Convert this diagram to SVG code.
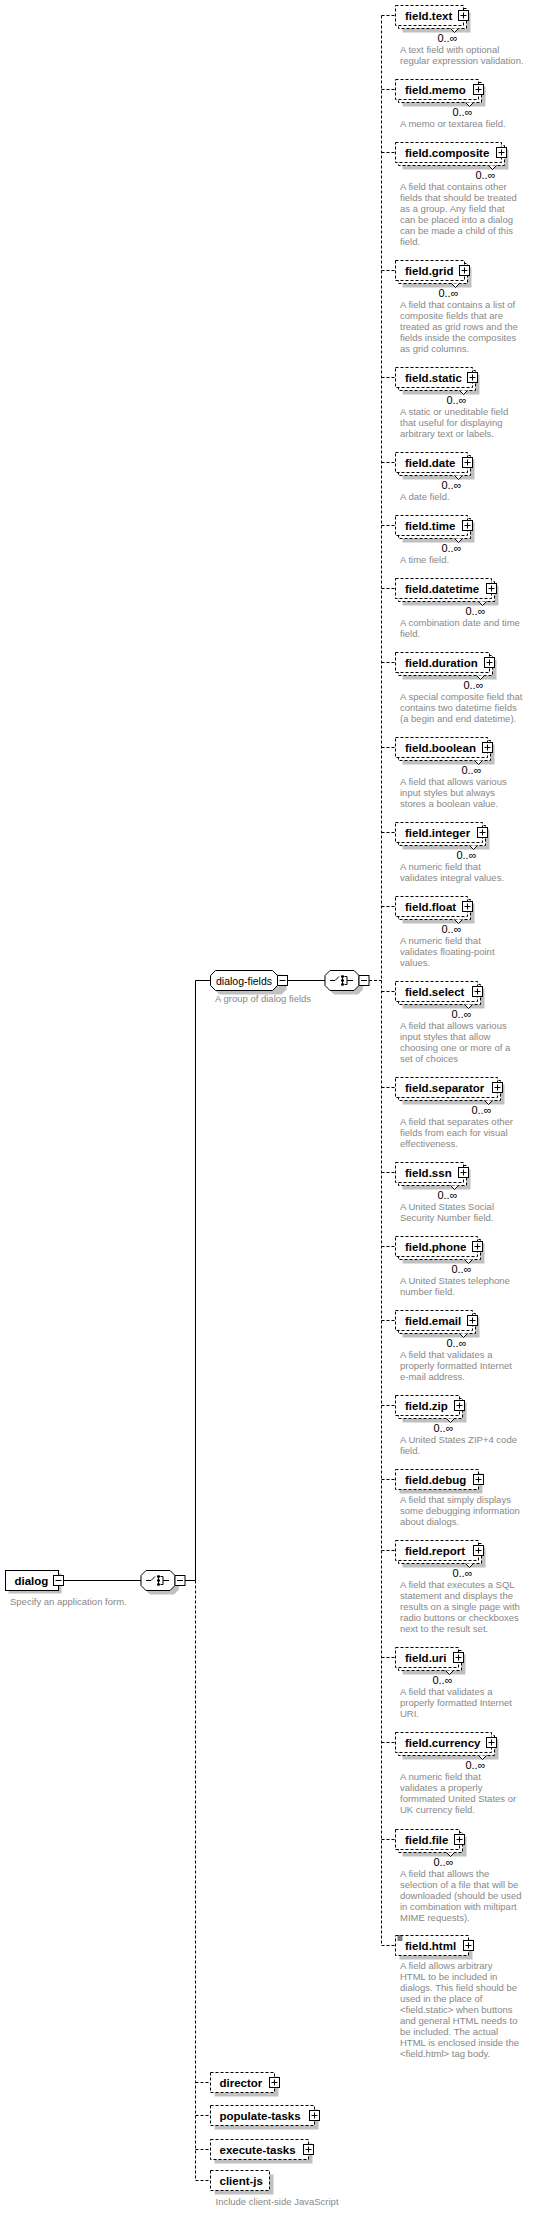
<svg xmlns="http://www.w3.org/2000/svg" xmlns:xlink="http://www.w3.org/1999/xlink" width="555" height="2213" viewBox="0 0 555 2213">
<style>
.n{font-family:"Liberation Sans",Arial,sans-serif;font-weight:bold;font-size:11.5px;fill:#000}
.g{font-family:"Liberation Sans",Arial,sans-serif;font-size:10.5px;fill:#000}
.o{font-family:"Liberation Sans",Arial,sans-serif;font-size:11px;fill:#000;text-anchor:end}
.d{font-family:"Liberation Sans",Arial,sans-serif;font-size:9.5px;fill:#888}
.box{fill:#fff;stroke:#000;stroke-width:1}
.dash{stroke-dasharray:3 2}
.sh{fill:#c0c0c0;stroke:none}
.ln{fill:none;stroke:#000;stroke-width:1}
.chev{fill:#fff;stroke:#000;stroke-width:1}
</style>
<defs>
<g id="plus"><rect class="box" x="-5" y="-5" width="10" height="10"/><path class="ln" d="M-3 0H3M0 -3V3"/></g>
<g id="minus"><rect class="box" x="-5" y="-5" width="10" height="10"/><path class="ln" d="M-3 0H3"/></g>
<g id="choice">
<path class="sh" d="M9 -6H33L38 -1V9L33 14H9L4 9V-1Z"/>
<path class="box" d="M5 -10H29L34 -5V5L29 10H5L0 5V-5Z"/>
<path class="ln" d="M5 0H10L14 -4M17.5 -5V5M19.5 -4H22V4H19.5M22 0H28"/>
<rect x="16" y="-5" width="3" height="2"/><rect x="16" y="-1" width="3" height="2"/><rect x="16" y="3" width="3" height="2"/>
<use xlink:href="#minus" href="#minus" x="39" y="0"/>
</g>
</defs>

<g id="connectors">
<path class="ln" d="M63 1580.5H141M185 1580.5H195.5M195.5 980.5V1580.5M195.5 980.5H210.5M282 980.5H325"/>
<path class="ln dash" d="M195.5 1580.5V2180.5M369 980.5H381.5M381.5 15.5V1945.5"/>
<path class="ln dash" d="M381.5 15.5H395.5M381.5 89.5H395.5M381.5 152.5H395.5M381.5 270.5H395.5M381.5 377.5H395.5M381.5 462.5H395.5M381.5 525.5H395.5M381.5 588.5H395.5M381.5 662.5H395.5M381.5 747.5H395.5M381.5 832.5H395.5M381.5 906.5H395.5M381.5 991.5H395.5M381.5 1087.5H395.5M381.5 1172.5H395.5M381.5 1246.5H395.5M381.5 1320.5H395.5M381.5 1405.5H395.5M381.5 1479.5H395.5M381.5 1550.5H395.5M381.5 1657.5H395.5M381.5 1742.5H395.5M381.5 1839.5H395.5M381.5 1945.5H395.5"/>
<path class="ln dash" d="M195.5 2082.5H210.5M195.5 2115.5H210.5M195.5 2149.5H210.5M195.5 2180.5H210.5"/>
</g>

<g id="dialog" transform="translate(5.5,1580.5)">
<rect class="sh" x="3" y="-7" width="53" height="20"/>
<rect class="box" x="0" y="-10" width="53" height="20"/>
<text class="n" x="9" y="4">dialog</text>
<use xlink:href="#minus" href="#minus" x="53" y="0"/>
<text class="d" x="4.5" y="24.5">Specify an application form.</text>
</g>

<g id="seq-dialog" transform="translate(141,1580.5)"><use xlink:href="#choice" href="#choice"/></g>

<g id="dialog-fields" transform="translate(210.5,980.5)">
<path class="sh" d="M9 -6H71L76 -1V9L71 14H9L4 9V-1Z"/>
<path class="box" d="M5 -10H62L67 -5V5L62 10H5L0 5V-5Z"/>
<text class="g" x="5.5" y="4">dialog-fields</text>
<use xlink:href="#minus" href="#minus" x="72" y="0"/>
<text class="d" x="4.5" y="21.5">A group of dialog fields</text>
</g>

<g id="choice-fields" transform="translate(325,980.5)"><use xlink:href="#choice" href="#choice"/></g>

<g id="field-text" transform="translate(395.5,15.5)">
<rect class="sh" x="7" y="-3" width="68" height="20"/><rect class="box dash" x="3" y="-7" width="68" height="20"/><rect class="box dash" x="0" y="-10" width="68" height="20"/>
<path class="chev" d="M55 13L59 17L63 13"/><use xlink:href="#plus" href="#plus" x="68" y="0"/>
<text class="n" x="9.5" y="4">field.text</text><text class="o" x="62" y="26">0..∞</text>
<text class="d" x="4.5" y="37.5">A text field with optional<tspan x="4.5" dy="11">regular expression validation.</tspan></text>
</g>

<g id="field-memo" transform="translate(395.5,89.5)">
<rect class="sh" x="7" y="-3" width="83" height="20"/><rect class="box dash" x="3" y="-7" width="83" height="20"/><rect class="box dash" x="0" y="-10" width="83" height="20"/>
<path class="chev" d="M70 13L74 17L78 13"/><use xlink:href="#plus" href="#plus" x="83" y="0"/>
<text class="n" x="9.5" y="4">field.memo</text><text class="o" x="77" y="26">0..∞</text>
<text class="d" x="4.5" y="37.5">A memo or textarea field.</text>
</g>

<g id="field-composite" transform="translate(395.5,152.5)">
<rect class="sh" x="7" y="-3" width="106" height="20"/><rect class="box dash" x="3" y="-7" width="106" height="20"/><rect class="box dash" x="0" y="-10" width="106" height="20"/>
<path class="chev" d="M93 13L97 17L101 13"/><use xlink:href="#plus" href="#plus" x="106" y="0"/>
<text class="n" x="9.5" y="4">field.composite</text><text class="o" x="100" y="26">0..∞</text>
<text class="d" x="4.5" y="37.5">A field that contains other<tspan x="4.5" dy="11">fields that should be treated</tspan><tspan x="4.5" dy="11">as a group. Any field that</tspan><tspan x="4.5" dy="11">can be placed into a dialog</tspan><tspan x="4.5" dy="11">can be made a child of this</tspan><tspan x="4.5" dy="11">field.</tspan></text>
</g>

<g id="field-grid" transform="translate(395.5,270.5)">
<rect class="sh" x="7" y="-3" width="69" height="20"/><rect class="box dash" x="3" y="-7" width="69" height="20"/><rect class="box dash" x="0" y="-10" width="69" height="20"/>
<path class="chev" d="M56 13L60 17L64 13"/><use xlink:href="#plus" href="#plus" x="69" y="0"/>
<text class="n" x="9.5" y="4">field.grid</text><text class="o" x="63" y="26">0..∞</text>
<text class="d" x="4.5" y="37.5">A field that contains a list of<tspan x="4.5" dy="11">composite fields that are</tspan><tspan x="4.5" dy="11">treated as grid rows and the</tspan><tspan x="4.5" dy="11">fields inside the composites</tspan><tspan x="4.5" dy="11">as grid columns.</tspan></text>
</g>

<g id="field-static" transform="translate(395.5,377.5)">
<rect class="sh" x="7" y="-3" width="77" height="20"/><rect class="box dash" x="3" y="-7" width="77" height="20"/><rect class="box dash" x="0" y="-10" width="77" height="20"/>
<path class="chev" d="M64 13L68 17L72 13"/><use xlink:href="#plus" href="#plus" x="77" y="0"/>
<text class="n" x="9.5" y="4">field.static</text><text class="o" x="71" y="26">0..∞</text>
<text class="d" x="4.5" y="37.5">A static or uneditable field<tspan x="4.5" dy="11">that useful for displaying</tspan><tspan x="4.5" dy="11">arbitrary text or labels.</tspan></text>
</g>

<g id="field-date" transform="translate(395.5,462.5)">
<rect class="sh" x="7" y="-3" width="72" height="20"/><rect class="box dash" x="3" y="-7" width="72" height="20"/><rect class="box dash" x="0" y="-10" width="72" height="20"/>
<path class="chev" d="M59 13L63 17L67 13"/><use xlink:href="#plus" href="#plus" x="72" y="0"/>
<text class="n" x="9.5" y="4">field.date</text><text class="o" x="66" y="26">0..∞</text>
<text class="d" x="4.5" y="37.5">A date field.</text>
</g>

<g id="field-time" transform="translate(395.5,525.5)">
<rect class="sh" x="7" y="-3" width="72" height="20"/><rect class="box dash" x="3" y="-7" width="72" height="20"/><rect class="box dash" x="0" y="-10" width="72" height="20"/>
<path class="chev" d="M59 13L63 17L67 13"/><use xlink:href="#plus" href="#plus" x="72" y="0"/>
<text class="n" x="9.5" y="4">field.time</text><text class="o" x="66" y="26">0..∞</text>
<text class="d" x="4.5" y="37.5">A time field.</text>
</g>

<g id="field-datetime" transform="translate(395.5,588.5)">
<rect class="sh" x="7" y="-3" width="96" height="20"/><rect class="box dash" x="3" y="-7" width="96" height="20"/><rect class="box dash" x="0" y="-10" width="96" height="20"/>
<path class="chev" d="M83 13L87 17L91 13"/><use xlink:href="#plus" href="#plus" x="96" y="0"/>
<text class="n" x="9.5" y="4">field.datetime</text><text class="o" x="90" y="26">0..∞</text>
<text class="d" x="4.5" y="37.5">A combination date and time<tspan x="4.5" dy="11">field.</tspan></text>
</g>

<g id="field-duration" transform="translate(395.5,662.5)">
<rect class="sh" x="7" y="-3" width="94" height="20"/><rect class="box dash" x="3" y="-7" width="94" height="20"/><rect class="box dash" x="0" y="-10" width="94" height="20"/>
<path class="chev" d="M81 13L85 17L89 13"/><use xlink:href="#plus" href="#plus" x="94" y="0"/>
<text class="n" x="9.5" y="4">field.duration</text><text class="o" x="88" y="26">0..∞</text>
<text class="d" x="4.5" y="37.5">A special composite field that<tspan x="4.5" dy="11">contains two datetime fields</tspan><tspan x="4.5" dy="11">(a begin and end datetime).</tspan></text>
</g>

<g id="field-boolean" transform="translate(395.5,747.5)">
<rect class="sh" x="7" y="-3" width="92" height="20"/><rect class="box dash" x="3" y="-7" width="92" height="20"/><rect class="box dash" x="0" y="-10" width="92" height="20"/>
<path class="chev" d="M79 13L83 17L87 13"/><use xlink:href="#plus" href="#plus" x="92" y="0"/>
<text class="n" x="9.5" y="4">field.boolean</text><text class="o" x="86" y="26">0..∞</text>
<text class="d" x="4.5" y="37.5">A field that allows various<tspan x="4.5" dy="11">input styles but always</tspan><tspan x="4.5" dy="11">stores a boolean value.</tspan></text>
</g>

<g id="field-integer" transform="translate(395.5,832.5)">
<rect class="sh" x="7" y="-3" width="87" height="20"/><rect class="box dash" x="3" y="-7" width="87" height="20"/><rect class="box dash" x="0" y="-10" width="87" height="20"/>
<path class="chev" d="M74 13L78 17L82 13"/><use xlink:href="#plus" href="#plus" x="87" y="0"/>
<text class="n" x="9.5" y="4">field.integer</text><text class="o" x="81" y="26">0..∞</text>
<text class="d" x="4.5" y="37.5">A numeric field that<tspan x="4.5" dy="11">validates integral values.</tspan></text>
</g>

<g id="field-float" transform="translate(395.5,906.5)">
<rect class="sh" x="7" y="-3" width="72" height="20"/><rect class="box dash" x="3" y="-7" width="72" height="20"/><rect class="box dash" x="0" y="-10" width="72" height="20"/>
<path class="chev" d="M59 13L63 17L67 13"/><use xlink:href="#plus" href="#plus" x="72" y="0"/>
<text class="n" x="9.5" y="4">field.float</text><text class="o" x="66" y="26">0..∞</text>
<text class="d" x="4.5" y="37.5">A numeric field that<tspan x="4.5" dy="11">validates floating-point</tspan><tspan x="4.5" dy="11">values.</tspan></text>
</g>

<g id="field-select" transform="translate(395.5,991.5)">
<rect class="sh" x="7" y="-3" width="82" height="20"/><rect class="box dash" x="3" y="-7" width="82" height="20"/><rect class="box dash" x="0" y="-10" width="82" height="20"/>
<path class="chev" d="M69 13L73 17L77 13"/><use xlink:href="#plus" href="#plus" x="82" y="0"/>
<text class="n" x="9.5" y="4">field.select</text><text class="o" x="76" y="26">0..∞</text>
<text class="d" x="4.5" y="37.5">A field that allows various<tspan x="4.5" dy="11">input styles that allow</tspan><tspan x="4.5" dy="11">choosing one or more of a</tspan><tspan x="4.5" dy="11">set of choices</tspan></text>
</g>

<g id="field-separator" transform="translate(395.5,1087.5)">
<rect class="sh" x="7" y="-3" width="102" height="20"/><rect class="box dash" x="3" y="-7" width="102" height="20"/><rect class="box dash" x="0" y="-10" width="102" height="20"/>
<path class="chev" d="M89 13L93 17L97 13"/><use xlink:href="#plus" href="#plus" x="102" y="0"/>
<text class="n" x="9.5" y="4">field.separator</text><text class="o" x="96" y="26">0..∞</text>
<text class="d" x="4.5" y="37.5">A field that separates other<tspan x="4.5" dy="11">fields from each for visual</tspan><tspan x="4.5" dy="11">effectiveness.</tspan></text>
</g>

<g id="field-ssn" transform="translate(395.5,1172.5)">
<rect class="sh" x="7" y="-3" width="68" height="20"/><rect class="box dash" x="3" y="-7" width="68" height="20"/><rect class="box dash" x="0" y="-10" width="68" height="20"/>
<path class="chev" d="M55 13L59 17L63 13"/><use xlink:href="#plus" href="#plus" x="68" y="0"/>
<text class="n" x="9.5" y="4">field.ssn</text><text class="o" x="62" y="26">0..∞</text>
<text class="d" x="4.5" y="37.5">A United States Social<tspan x="4.5" dy="11">Security Number field.</tspan></text>
</g>

<g id="field-phone" transform="translate(395.5,1246.5)">
<rect class="sh" x="7" y="-3" width="82" height="20"/><rect class="box dash" x="3" y="-7" width="82" height="20"/><rect class="box dash" x="0" y="-10" width="82" height="20"/>
<path class="chev" d="M69 13L73 17L77 13"/><use xlink:href="#plus" href="#plus" x="82" y="0"/>
<text class="n" x="9.5" y="4">field.phone</text><text class="o" x="76" y="26">0..∞</text>
<text class="d" x="4.5" y="37.5">A United States telephone<tspan x="4.5" dy="11">number field.</tspan></text>
</g>

<g id="field-email" transform="translate(395.5,1320.5)">
<rect class="sh" x="7" y="-3" width="77" height="20"/><rect class="box dash" x="3" y="-7" width="77" height="20"/><rect class="box dash" x="0" y="-10" width="77" height="20"/>
<path class="chev" d="M64 13L68 17L72 13"/><use xlink:href="#plus" href="#plus" x="77" y="0"/>
<text class="n" x="9.5" y="4">field.email</text><text class="o" x="71" y="26">0..∞</text>
<text class="d" x="4.5" y="37.5">A field that validates a<tspan x="4.5" dy="11">properly formatted Internet</tspan><tspan x="4.5" dy="11">e-mail address.</tspan></text>
</g>

<g id="field-zip" transform="translate(395.5,1405.5)">
<rect class="sh" x="7" y="-3" width="64" height="20"/><rect class="box dash" x="3" y="-7" width="64" height="20"/><rect class="box dash" x="0" y="-10" width="64" height="20"/>
<path class="chev" d="M51 13L55 17L59 13"/><use xlink:href="#plus" href="#plus" x="64" y="0"/>
<text class="n" x="9.5" y="4">field.zip</text><text class="o" x="58" y="26">0..∞</text>
<text class="d" x="4.5" y="37.5">A United States ZIP+4 code<tspan x="4.5" dy="11">field.</tspan></text>
</g>

<g id="field-debug" transform="translate(395.5,1479.5)">
<rect class="sh" x="4" y="-6" width="83" height="20"/><rect class="box dash" x="0" y="-10" width="83" height="20"/>
<use xlink:href="#plus" href="#plus" x="83" y="0"/>
<text class="n" x="9.5" y="4">field.debug</text>
<text class="d" x="4.5" y="23.5">A field that simply displays<tspan x="4.5" dy="11">some debugging information</tspan><tspan x="4.5" dy="11">about dialogs.</tspan></text>
</g>

<g id="field-report" transform="translate(395.5,1550.5)">
<rect class="sh" x="7" y="-3" width="83" height="20"/><rect class="box dash" x="3" y="-7" width="83" height="20"/><rect class="box dash" x="0" y="-10" width="83" height="20"/>
<path class="chev" d="M70 13L74 17L78 13"/><use xlink:href="#plus" href="#plus" x="83" y="0"/>
<text class="n" x="9.5" y="4">field.report</text><text class="o" x="77" y="26">0..∞</text>
<text class="d" x="4.5" y="37.5">A field that executes a SQL<tspan x="4.5" dy="11">statement and displays the</tspan><tspan x="4.5" dy="11">results on a single page with</tspan><tspan x="4.5" dy="11">radio buttons or checkboxes</tspan><tspan x="4.5" dy="11">next to the result set.</tspan></text>
</g>

<g id="field-uri" transform="translate(395.5,1657.5)">
<rect class="sh" x="7" y="-3" width="63" height="20"/><rect class="box dash" x="3" y="-7" width="63" height="20"/><rect class="box dash" x="0" y="-10" width="63" height="20"/>
<path class="chev" d="M50 13L54 17L58 13"/><use xlink:href="#plus" href="#plus" x="63" y="0"/>
<text class="n" x="9.5" y="4">field.uri</text><text class="o" x="57" y="26">0..∞</text>
<text class="d" x="4.5" y="37.5">A field that validates a<tspan x="4.5" dy="11">properly formatted Internet</tspan><tspan x="4.5" dy="11">URI.</tspan></text>
</g>

<g id="field-currency" transform="translate(395.5,1742.5)">
<rect class="sh" x="7" y="-3" width="96" height="20"/><rect class="box dash" x="3" y="-7" width="96" height="20"/><rect class="box dash" x="0" y="-10" width="96" height="20"/>
<path class="chev" d="M83 13L87 17L91 13"/><use xlink:href="#plus" href="#plus" x="96" y="0"/>
<text class="n" x="9.5" y="4">field.currency</text><text class="o" x="90" y="26">0..∞</text>
<text class="d" x="4.5" y="37.5">A numeric field that<tspan x="4.5" dy="11">validates a properly</tspan><tspan x="4.5" dy="11">formmated United States or</tspan><tspan x="4.5" dy="11">UK currency field.</tspan></text>
</g>

<g id="field-file" transform="translate(395.5,1839.5)">
<rect class="sh" x="7" y="-3" width="64" height="20"/><rect class="box dash" x="3" y="-7" width="64" height="20"/><rect class="box dash" x="0" y="-10" width="64" height="20"/>
<path class="chev" d="M51 13L55 17L59 13"/><use xlink:href="#plus" href="#plus" x="64" y="0"/>
<text class="n" x="9.5" y="4">field.file</text><text class="o" x="58" y="26">0..∞</text>
<text class="d" x="4.5" y="37.5">A field that allows the<tspan x="4.5" dy="11">selection of a file that will be</tspan><tspan x="4.5" dy="11">downloaded (should be used</tspan><tspan x="4.5" dy="11">in combination with miltipart</tspan><tspan x="4.5" dy="11">MIME requests).</tspan></text>
</g>

<g id="field-html" transform="translate(395.5,1945.5)">
<rect class="sh" x="4" y="-6" width="73" height="20"/><rect class="box dash" x="0" y="-10" width="73" height="20"/>
<path class="ln" d="M2 -9.5H7M2 -7.5H7M2 -5.5H7"/>
<use xlink:href="#plus" href="#plus" x="73" y="0"/>
<text class="n" x="9.5" y="4">field.html</text>
<text class="d" x="4.5" y="23">A field allows arbitrary<tspan x="4.5" dy="11">HTML to be included in</tspan><tspan x="4.5" dy="11">dialogs. This field should be</tspan><tspan x="4.5" dy="11">used in the place of</tspan><tspan x="4.5" dy="11">&lt;field.static&gt; when buttons</tspan><tspan x="4.5" dy="11">and general HTML needs to</tspan><tspan x="4.5" dy="11">be included. The actual</tspan><tspan x="4.5" dy="11">HTML is enclosed inside the</tspan><tspan x="4.5" dy="11">&lt;field.html&gt; tag body.</tspan></text>
</g>

<g id="director" transform="translate(210.5,2082.5)">
<rect class="sh" x="4" y="-6" width="64" height="20"/><rect class="box dash" x="0" y="-10" width="64" height="20"/>
<use xlink:href="#plus" href="#plus" x="64" y="0"/>
<text class="n" x="9" y="4">director</text>
</g>

<g id="populate-tasks" transform="translate(210.5,2115.5)">
<rect class="sh" x="4" y="-6" width="104" height="20"/><rect class="box dash" x="0" y="-10" width="104" height="20"/>
<use xlink:href="#plus" href="#plus" x="104" y="0"/>
<text class="n" x="9" y="4">populate-tasks</text>
</g>

<g id="execute-tasks" transform="translate(210.5,2149.5)">
<rect class="sh" x="4" y="-6" width="98" height="20"/><rect class="box dash" x="0" y="-10" width="98" height="20"/>
<use xlink:href="#plus" href="#plus" x="98" y="0"/>
<text class="n" x="9" y="4">execute-tasks</text>
</g>

<g id="client-js" transform="translate(210.5,2180.5)">
<rect class="sh" x="4" y="-6" width="59" height="20"/><rect class="box dash" x="0" y="-10" width="59" height="20"/>
<text class="n" x="9" y="4">client-js</text>
<text class="d" x="5" y="24">Include client-side JavaScript</text>
</g>
</svg>
